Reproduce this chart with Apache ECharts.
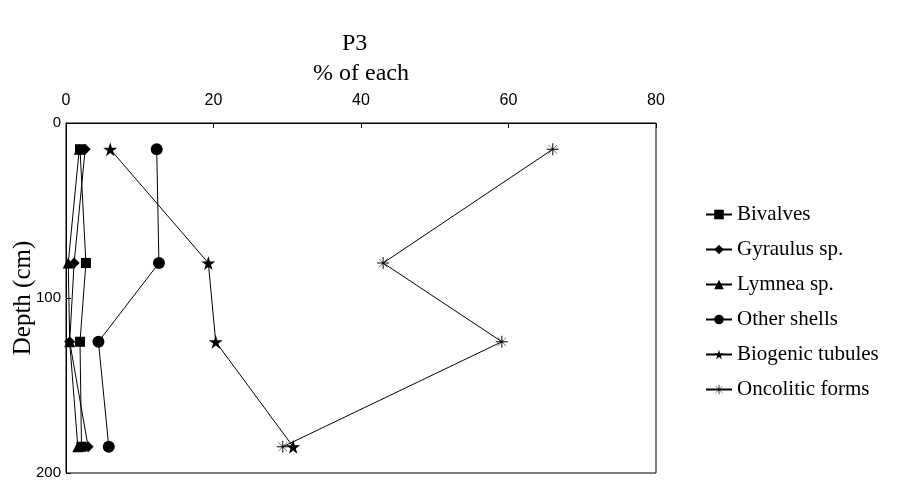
<!DOCTYPE html>
<html>
<head>
<meta charset="utf-8">
<script src="https://cdn.jsdelivr.net/npm/echarts@6/dist/echarts.min.js"></script>
<style>html,body{margin:0;padding:0;background:#fff;}#chart{width:898px;height:481px;}</style>
</head>
<body>
<div id="chart"></div>
<script>
var depths = [15, 80, 125, 185];
var bivalves = [1.9, 2.7, 1.9, 2.1];
var gyraulus = [2.6, 1.1, 0.5, 3.0];
var lymnea = [1.8, 0.3, 0.5, 1.6];
var otherShells = [12.3, 12.6, 4.4, 5.8];
var biogenic = [6.0, 19.3, 20.3, 30.8];
var oncolitic = [66, 43, 59.1, 29.4];
var seriesNames = ['Bivalves', 'Gyraulus sp.', 'Lymnea sp.', 'Other shells', 'Biogenic tubules', 'Oncolitic forms'];

var STAR = 'path://M50,0 L61,35 L98,35 L68,57 L79,91 L50,70 L21,91 L32,57 L2,35 L39,35 Z';
var ASTER = 'path://M46,0 L54,0 L54,100 L46,100 Z M0,46 L100,46 L100,54 L0,54 Z M12.5,15.3 L15.3,12.5 L87.5,84.7 L84.7,87.5 Z M84.7,12.5 L87.5,15.3 L15.3,87.5 L12.5,84.7 Z';

function pts(vals) { return depths.map(function (d, i) { return [vals[i], d]; }); }

function mk(name, vals, symbol, size) {
  return {
    name: name, type: 'line', data: pts(vals), symbol: symbol, symbolSize: size,
    lineStyle: { color: '#000', width: 1 },
    itemStyle: { color: '#000', borderWidth: 0 },
    animation: false
  };
}

var chart = echarts.init(document.getElementById('chart'));
chart.setOption({
  backgroundColor: '#fff',
  animation: false,
  title: { text: 'P3', left: 337, top: 27, textStyle: { fontFamily: 'Liberation Serif', fontWeight: 'normal', fontSize: 24, color: '#000' } },
  grid: { left: 66, top: 123, right: 242, bottom: 8, show: true, borderColor: '#000', borderWidth: 1, backgroundColor: 'transparent', containLabel: false, outerBoundsMode: 'none' },
  xAxis: {
    type: 'value', position: 'top', min: 0, max: 80, interval: 20,
    name: '% of each', nameLocation: 'middle', nameGap: 37, nameMoveOverlap: false,
    nameTextStyle: { fontFamily: 'Liberation Serif', fontSize: 24, color: '#000' },
    axisLine: { show: true, lineStyle: { color: '#000', width: 1 } },
    axisTick: { show: true, inside: true, length: 5, lineStyle: { color: '#000' } },
    axisLabel: { fontFamily: 'Liberation Sans', fontSize: 16, color: '#000', margin: 14 },
    splitLine: { show: false }
  },
  yAxis: {
    type: 'value', inverse: true, min: 0, max: 200, interval: 100,
    name: 'Depth (cm)', nameLocation: 'middle', nameGap: 30, nameRotate: 90, nameMoveOverlap: false,
    nameTextStyle: { fontFamily: 'Liberation Serif', fontSize: 25, color: '#000' },
    axisLine: { show: true, lineStyle: { color: '#000', width: 1 } },
    axisTick: { show: true, inside: true, length: 5, lineStyle: { color: '#000' } },
    axisLabel: { fontFamily: 'Liberation Sans', fontSize: 15, color: '#000', margin: 5 },
    splitLine: { show: false }
  },
  legend: {
    orient: 'vertical', left: 700, top: 199, itemWidth: 26, itemHeight: 12, itemGap: 14,
    data: seriesNames,
    textStyle: { fontFamily: 'Liberation Serif', fontSize: 21, color: '#000', padding: [0, 0, 0, 0] }
  },
  series: [
    mk(seriesNames[0], bivalves, 'rect', 10),
    mk(seriesNames[1], gyraulus, 'diamond', 11),
    mk(seriesNames[2], lymnea, 'triangle', 11),
    mk(seriesNames[3], otherShells, 'circle', 12),
    mk(seriesNames[4], biogenic, STAR, 14),
    mk(seriesNames[5], oncolitic, ASTER, 12)
  ]
});
</script>
</body>
</html>
